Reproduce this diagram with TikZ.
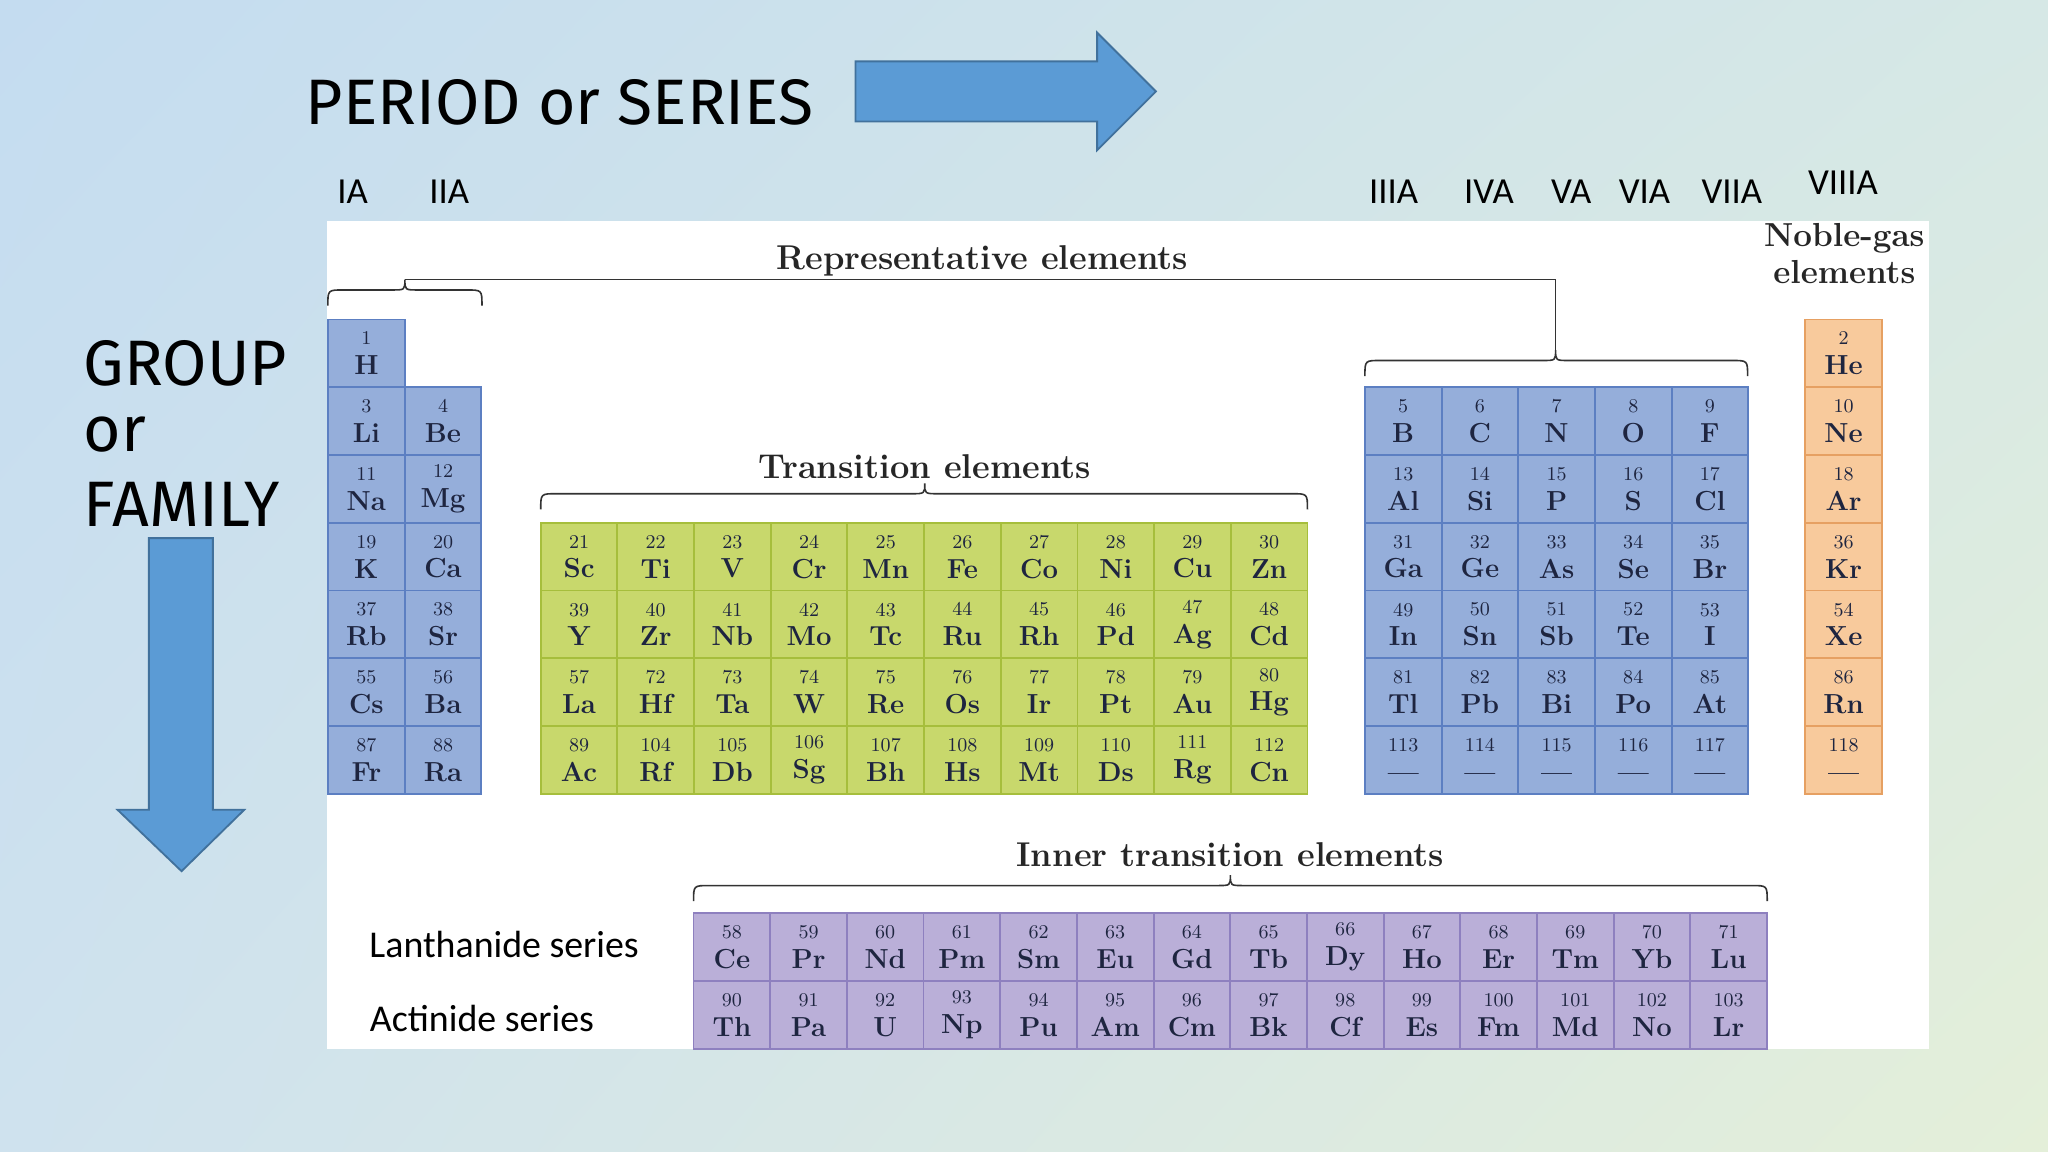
\documentclass[tikz,border=0pt]{standalone}
\usepackage{fontspec}
\usetikzlibrary{shadings}
\newfontfamily\hand{Fira Sans}
\newfontfamily\calib{Carlito}
\definecolor{sfill}{HTML}{95AEDA}\definecolor{sdraw}{HTML}{5C7FC2}
\definecolor{tfill}{HTML}{C8D86C}\definecolor{tdraw}{HTML}{A6BE3C}
\definecolor{nfill}{HTML}{F8CA9C}\definecolor{ndraw}{HTML}{E6A062}
\definecolor{ifill}{HTML}{BAAFD8}\definecolor{idraw}{HTML}{8E80BF}
\definecolor{arrfill}{HTML}{5B9BD5}\definecolor{arrdraw}{HTML}{41719C}
\definecolor{txt}{HTML}{1E2540}
\definecolor{bgul}{HTML}{C4DCF0}\definecolor{bgur}{HTML}{D6E8E6}
\definecolor{bgll}{HTML}{CFE2EE}\definecolor{bglr}{HTML}{E4EFD9}
\tikzset{
 cell/.style={draw, line width=0.8pt, minimum width=1.174cm, minimum height=1.038cm, inner sep=0pt, align=center, text=txt, font=\bfseries\fontsize{12}{12}\selectfont},
 sc/.style={cell, fill=sfill, draw=sdraw},
 tc/.style={cell, fill=tfill, draw=tdraw},
 nc/.style={cell, fill=nfill, draw=ndraw},
 ic/.style={cell, fill=ifill, draw=idraw},
 brace/.style={draw=black!80, line width=0.7pt},
 ttl/.style={font=\bfseries\fontsize{15}{16}\selectfont, text=black!85},
 grp/.style={font=\calib\fontsize{16}{17}\selectfont},
 big/.style={font=\hand\fontsize{28}{30}\selectfont, anchor=west},
 arr/.style={fill=arrfill, draw=arrdraw, line width=0.8pt}
}
\newcommand{\elt}[2]{{\mdseries\fontsize{8.5}{8.5}\selectfont #1}\\[1pt]#2}
\begin{document}
\begin{tikzpicture}[x=0.02cm,y=-0.02cm]
\useasboundingbox (0,0) rectangle (1568,882);
\shade[upper left=bgul, upper right=bgur, lower left=bgll, lower right=bglr] (0,0) rectangle (1568,882);
\fill[white] (250,169) rectangle (1477,803);
% arrows
\draw[arr] (655,47) -- (840,47) -- (840,25) -- (885,70) -- (840,115) -- (840,93) -- (655,93) -- cycle;
\draw[arr] (114,412) -- (163,412) -- (163,620) -- (187,620) -- (139,667) -- (90,620) -- (114,620) -- cycle;
\node[big] (per) at (228,78) {PERIOD or SERIES};
\node[big] (g1) at (58,278) {GROUP};
\node[big] (g2) at (58,333) {or};
\node[big] (g3) at (58,386) {FAMILY};
% group labels
\foreach \t/\x [count=\k] in {IA/270,IIA/344,IIIA/1067,IVA/1140,VA/1203,VIA/1259,VIIA/1326}
  \node[grp] (gl\k) at (\x,147) {\t};
\node[grp] (gl8) at (1411,140) {VIIIA};
\node[ttl, align=center, font=\bfseries\fontsize{14.5}{15}\selectfont] (noble) at (1412,194) {Noble-gas\\[1pt]elements};
\node[ttl] (rep) at (752,200) {Representative elements};
\node[ttl] (tra) at (708,357) {Transition elements};
\node[ttl] (inn) at (942,654) {Inner transition elements};
\node[font=\calib\fontsize{16.5}{17}\selectfont] (lan) at (386,723) {Lanthanide series};
\node[font=\calib\fontsize{16.5}{17}\selectfont] (act) at (369,780) {Actinide series};
% braces
\draw[brace] (251,234) .. controls (251,222) .. (263,222) -- (300,222) .. controls (310,222) .. (310,214) .. controls (310,222) .. (320,222) -- (357,222) .. controls (369,222) .. (369,234);
\draw[brace] (310,214) -- (1191,214) -- (1191,268);
\draw[brace] (1045,288) .. controls (1045,276) .. (1057,276) -- (1181,276) .. controls (1191,276) .. (1191,268) .. controls (1191,276) .. (1201,276) -- (1326,276) .. controls (1338,276) .. (1338,288);
\draw[brace] (414,390) .. controls (414,378) .. (426,378) -- (698,378) .. controls (708,378) .. (708,370) .. controls (708,378) .. (718,378) -- (989,378) .. controls (1001,378) .. (1001,390);
\draw[brace] (531,690) .. controls (531,678) .. (543,678) -- (932,678) .. controls (942,678) .. (942,670) .. controls (942,678) .. (952,678) -- (1341,678) .. controls (1353,678) .. (1353,690);
% s-block
\foreach \c/\r/\n/\s in {1/1/1/H,1/2/3/Li,2/2/4/Be,1/3/11/Na,2/3/12/Mg,1/4/19/K,2/4/20/Ca,1/5/37/Rb,2/5/38/Sr,1/6/55/Cs,2/6/56/Ba,1/7/87/Fr,2/7/88/Ra}
  \node[sc] (e\n) at ({280.5+(\c-1)*58.7},{270.5+(\r-1)*51.9}) {\elt{\n}{\s}};
% transition
\foreach \c/\r/\n/\s in {0/4/21/Sc,1/4/22/Ti,2/4/23/V,3/4/24/Cr,4/4/25/Mn,5/4/26/Fe,6/4/27/Co,7/4/28/Ni,8/4/29/Cu,9/4/30/Zn,
 0/5/39/Y,1/5/40/Zr,2/5/41/Nb,3/5/42/Mo,4/5/43/Tc,5/5/44/Ru,6/5/45/Rh,7/5/46/Pd,8/5/47/Ag,9/5/48/Cd,
 0/6/57/La,1/6/72/Hf,2/6/73/Ta,3/6/74/W,4/6/75/Re,5/6/76/Os,6/6/77/Ir,7/6/78/Pt,8/6/79/Au,9/6/80/Hg,
 0/7/89/Ac,1/7/104/Rf,2/7/105/Db,3/7/106/Sg,4/7/107/Bh,5/7/108/Hs,6/7/109/Mt,7/7/110/Ds,8/7/111/Rg,9/7/112/Cn}
  \node[tc] (e\n) at ({443.35+\c*58.7},{270.5+(\r-1)*51.9}) {\elt{\n}{\s}};
% p-block
\foreach \c/\r/\n/\s in {0/2/5/B,1/2/6/C,2/2/7/N,3/2/8/O,4/2/9/F,
 0/3/13/Al,1/3/14/Si,2/3/15/P,3/3/16/S,4/3/17/Cl,
 0/4/31/Ga,1/4/32/Ge,2/4/33/As,3/4/34/Se,4/4/35/Br,
 0/5/49/In,1/5/50/Sn,2/5/51/Sb,3/5/52/Te,4/5/53/I,
 0/6/81/Tl,1/6/82/Pb,2/6/83/Bi,3/6/84/Po,4/6/85/At,
 0/7/113/---,1/7/114/---,2/7/115/---,3/7/116/---,4/7/117/---}
  \node[sc] (e\n) at ({1074.35+\c*58.7},{270.5+(\r-1)*51.9}) {\elt{\n}{\s}};
% noble gases
\foreach \r/\n/\s in {1/2/He,2/10/Ne,3/18/Ar,4/36/Kr,5/54/Xe,6/86/Rn,7/118/---}
  \node[nc] (e\n) at (1411.5,{270.5+(\r-1)*51.9}) {\elt{\n}{\s}};
% inner transition
\foreach \s [count=\i from 0, evaluate=\i as \n using int(58+\i)] in {Ce,Pr,Nd,Pm,Sm,Eu,Gd,Tb,Dy,Ho,Er,Tm,Yb,Lu}
  \node[ic] (e\n) at ({560.35+\i*58.7},725) {\elt{\n}{\s}};
\foreach \s [count=\i from 0, evaluate=\i as \n using int(90+\i)] in {Th,Pa,U,Np,Pu,Am,Cm,Bk,Cf,Es,Fm,Md,No,Lr}
  \node[ic] (e\n) at ({560.35+\i*58.7},777) {\elt{\n}{\s}};
\end{tikzpicture}
\end{document}
